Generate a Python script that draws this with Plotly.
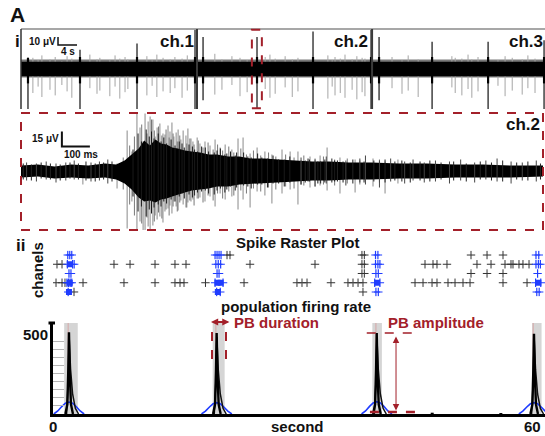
import plotly.graph_objects as go

W, H = 545, 436
def px(x): return x / W
def py(y): return 1 - y / H

RED = "#a3202a"
BLUE = "#1f3cff"
FONT = "Liberation Sans, Arial, sans-serif"

# ---------------- panel i : overview of three channels (s, µV) ----------------
overview_chan_labels = ["ch.1", "ch.2", "ch.3"]
overview_chan_edges_s = [0.0, 37.05, 73.9, 110.3]
overview_core_uv = [-9.0, 9.0]
overview_fuzz_uv = [-10.5, 12.0]
overview_burst_t = [1.47, 12.42, 24.42, 36.63, 38.32, 49.68, 61.47, 73.68, 75.37, 86.53, 98.32, 110.1]
overview_burst_top = [14, 24, 32, 49, 40, 40, 47, 49, 40, 34, 34, 36]
overview_burst_bot = [-50, -50, -50, -50, -39, -49, -50, -50, -39, -50, -50, -50]
overview_spk_t = [2.5, 3.6, 4.4, 6.1, 7.2, 8.6, 9.7, 10.7, 14.5, 16.0,
                  16.6, 18.7, 19.8, 20.8, 21.9, 22.5, 26.5, 27.6, 28.6, 29.9,
                  31.4, 32.4, 33.9, 35.0, 40.8, 42.3, 44.4, 46.1, 47.6, 51.4,
                  52.4, 53.5, 55.6, 57.1, 58.3, 64.6, 65.5, 66.1, 67.2, 68.2,
                  69.7, 70.7, 71.8, 72.4, 78.1, 80.2, 81.5, 83.6, 90.7, 91.4,
                  92.8, 94.1, 94.9, 96.2, 100.4, 101.9, 103.4, 105.5, 106.7, 108.2]
overview_spk_bot = [-30, -22, -35, -26, -33, -20, -28, -36, -24, -31,
                    -27, -34, -22, -37, -29, -25, -33, -21, -35, -28,
                    -30, -24, -36, -27, -32, -26, -20, -34, -29, -25,
                    -36, -31, -23, -35, -28, -37, -22, -33, -30, -36,
                    -26, -38, -29, -34, -24, -31, -27, -35, -23, -30,
                    -33, -25, -36, -28, -21, -34, -27, -32, -24, -30]
overview_spk_top = [14, 11, 17, 12, 15, 10, 16, 13, 18, 12,
                    14, 11, 17, 13, 15, 12, 16, 11, 18, 14,
                    12, 15, 13, 17, 19, 12, 16, 14, 11, 15,
                    18, 13, 16, 12, 14, 17, 11, 15, 13, 18,
                    12, 16, 14, 13, 15, 11, 17, 12, 16, 14,
                    13, 18, 12, 15, 11, 16, 14, 12, 17, 13]
overview_zoom_window_s = [48.6, 50.7]
overview_scalebar = [7.79, 30, 4, 10]   # x0 (s), y0 (µV), 4 s, 10 µV

# ---------------- zoomed ch.2 burst (ms, µV) ----------------
zoom_env_ms = [0, 60, 120, 180, 240, 300, 340, 370, 395, 420,
               440, 460, 480, 500, 520, 540, 560, 585, 610, 640,
               670, 700, 740, 780, 820, 870, 920, 980, 1040, 1100,
               1170, 1250, 1350, 1450, 1550, 1650, 1750, 1864]
zoom_env_top = [6, 7, 5, 7, 6, 8, 7, 11, 17, 23,
                31, 26, 32, 28, 27, 24, 23, 21, 20, 19,
                17, 17, 15, 15, 13, 13, 12, 11, 10, 10,
                9, 9, 8, 8, 7, 7, 6, 6]
zoom_env_bot = [-6, -5, -7, -6, -7, -6, -8, -12, -18, -26,
                -30, -29, -31, -28, -27, -25, -23, -21, -19, -18,
                -17, -15, -15, -13, -13, -12, -11, -10, -9, -9,
                -8, -8, -7, -7, -6, -6, -6, -5]
zoom_spk_ms = [221, 343, 379, 396, 414, 425, 436, 443, 454, 461,
               471, 479, 486, 496, 507, 514, 525, 532, 539, 546,
               554, 561, 571, 579, 589, 596, 607, 614, 629, 639,
               657, 675, 693, 711, 729, 753, 775, 793, 818, 843,
               871, 896, 932, 961, 989, 1032, 1068, 1093, 1139, 1193,
               1257, 1300, 1346]
zoom_spk_top = [4, 8, 41, 20, 58, 44, 30, 58, 50, 55,
                52, 35, 44, 48, 38, 37, 46, 40, 49, 35,
                39, 42, 32, 41, 36, 43, 33, 30, 34, 28,
                30, 26, 32, 24, 27, 22, 33, 34, 18, 24,
                20, 17, 22, 20, 20, 15, 16, 24, 14, 12,
                13, 10, 12]
zoom_spk_bot = [-13, -17, -57, -30, -59, -50, -59, -59, -55, -59,
                -54, -44, -48, -45, -51, -40, -37, -34, -42, -30,
                -35, -39, -29, -33, -36, -31, -30, -28, -27, -26,
                -30, -25, -35, -22, -28, -25, -38, -28, -36, -20,
                -24, -32, -22, -18, -33, -16, -14, -19, -22, -21,
                -15, -22, -12]
zoom_gray2_ms = [365, 388, 405, 431, 450, 466, 476, 491, 503, 518,
                 529, 543, 558, 567, 592, 603, 618, 633, 650, 668,
                 686, 702, 720, 742, 760, 785, 805, 830, 856, 884,
                 910, 945, 975, 1010, 1050, 1080, 1120, 1165, 1210, 1280]
zoom_gray2_top = [14, 26, 35, 47, 38, 52, 41, 45, 36, 42,
                  34, 38, 30, 36, 28, 33, 27, 31, 24, 29,
                  22, 27, 21, 25, 19, 23, 17, 21, 16, 19,
                  15, 17, 14, 16, 13, 15, 12, 13, 11, 12]
zoom_gray2_bot = [-18, -33, -44, -52, -46, -40, -50, -41, -47, -38,
                  -44, -35, -40, -31, -36, -29, -34, -27, -31, -24,
                  -29, -22, -27, -20, -24, -19, -22, -17, -20, -16,
                  -18, -15, -17, -14, -15, -13, -14, -12, -13, -11]
zoom_dark_ms = [400, 418, 430, 447, 458, 466, 475, 490, 500, 510, 520, 536, 550,
                565, 583, 600, 620, 645, 670, 700, 735, 770, 810, 860, 920,
                575, 612, 630, 658, 690, 712, 728, 748, 765, 795, 822, 845,
                880, 900, 940, 960, 1000, 1025, 1060, 1085, 1120, 1150]
zoom_dark_top = [22, 38, 30, 42, 35, 40, 33, 38, 30, 34, 28, 32, 26,
                 30, 24, 27, 22, 25, 20, 21, 18, 19, 15, 14, 12,
                 28, 25, 20, 24, 19, 23, 17, 20, 16, 19, 14, 18,
                 13, 16, 12, 15, 11, 13, 10, 12, 11, 10]
zoom_dark_bot = [-25, -40, -35, -45, -38, -42, -36, -33, -35, -30, -32, -28, -30,
                 -25, -27, -23, -24, -20, -22, -19, -18, -16, -15, -13, -12,
                 -22, -26, -21, -19, -23, -17, -21, -15, -19, -14, -17, -13,
                 -16, -12, -15, -11, -13, -10, -12, -11, -10, -11]
zoom_small_ms = [20, 55, 90, 125, 160, 190, 250, 280, 310,
                 1000, 1050, 1090, 1160, 1210, 1230, 1280, 1320, 1370, 1400,
                 1440, 1480, 1530, 1570, 1620, 1660, 1700, 1750, 1790, 1840]
zoom_small_top = [9, 8, 10, 8, 9, 11, 9, 10, 12,
                  14, 12, 15, 11, 13, 16, 11, 13, 10, 12,
                  9, 11, 10, 12, 9, 11, 13, 10, 9, 11]
zoom_small_bot = [-9, -10, -8, -11, -9, -8, -10, -9, -12,
                  -13, -15, -12, -14, -11, -13, -16, -10, -12, -9,
                  -11, -10, -12, -9, -11, -8, -10, -12, -9, -10]
zoom_fine_ms = [8, 37, 72, 105, 140, 175, 205, 232, 265, 295, 325,
                1015, 1030, 1070, 1110, 1130, 1185, 1225, 1260, 1300, 1335,
                1360, 1390, 1425, 1460, 1500, 1545, 1590, 1640, 1680, 1720,
                1770, 1810, 1855]
zoom_fine_top = [8, 7, 9, 8, 7, 9, 8, 10, 8, 9, 10,
                 11, 12, 10, 13, 11, 12, 10, 11, 12, 10,
                 11, 9, 10, 11, 9, 10, 8, 10, 9, 11,
                 9, 10, 8]
zoom_fine_bot = [-8, -9, -7, -8, -9, -7, -8, -9, -10, -8, -10,
                 -11, -10, -12, -11, -10, -12, -11, -10, -11, -9,
                 -10, -11, -9, -10, -8, -9, -10, -8, -9, -10,
                 -8, -9, -8]
zoom_scalebar = [146, 25, 100, 15]   # x0 (ms), y0 (µV), 100 ms, 15 µV

# ---------------- panel ii : spike raster (s) ----------------
raster_rows = [1, 2, 3, 4, 5]
raster_black = [
    [21.8, 22.17, 38.7, 39.0, 52.36, 54.37, 56.37],
    [0.5, 1.13, 7.64, 9.65, 12.78, 15.28, 16.66, 24.68, 32.82, 38.7, 39.0, 46.6, 47.6,
     48.1, 49.35, 53.11, 54.87, 56.62, 57.37, 57.62, 58.37, 58.87, 59.63],
    [38.7, 39.0, 52.36, 54.37, 56.37],
    [0.38, 1.13, 1.5, 3.76, 8.89, 12.78, 15.28, 15.91, 16.41, 19.1, 23.93, 30.56, 31.19,
     31.82, 34.82, 36.95, 37.58, 38.21, 38.83, 45.35, 46.35, 47.48, 48.1, 49.48, 50.36,
     51.36, 52.24, 56.37, 59.38],
    [2.63, 38.83],
]
raster_blue = [
    [1.85, 2.1, 2.35, 20.3, 20.55, 20.8, 21.05, 40.4, 40.7, 60.5, 60.85],
    [1.8, 2.45, 2.65, 20.4, 20.7, 21.0, 40.4, 40.7, 40.95, 60.5, 60.8, 61.05],
    [2.0, 2.25, 20.55, 20.8, 40.45, 40.75, 60.7],
    [1.75, 1.95, 2.15, 2.35, 20.3, 21.3, 40.3, 40.95, 60.45, 61.1],
    [1.9, 20.5, 20.95, 40.45, 40.75, 60.6, 60.9],
]
raster_block_row = [2, 4, 5, 4, 4, 5, 4, 4]
raster_block_t = [2.1, 2.1, 2.0, 20.6, 21.0, 20.65, 40.6, 60.8]

# ---------------- population firing rate ----------------
fr_burst_t = [2.0, 20.5, 40.55, 60.25]
fr_peak = [505, 500, 500, 495]
fr_blue_peak = [74, 70, 76, 70]
fr_band_lo = [1.4, 20.0, 40.0, 60.0]
fr_band_hi = [3.1, 21.5, 41.2, 61.2]
fr_spike_dt = [-0.45, -0.2, -0.08, 0, 0.1, 0.25, 0.5]
fr_spike_frac = [0, 0.12, 0.55, 1.0, 0.5, 0.12, 0]
fr_tail_dt = [-0.3, -0.1, 0.02, 0.2, 0.45, 0.8, 1.2]
fr_tail_frac = [0, 0.4, 0.95, 0.55, 0.25, 0.07, 0]
fr_blue_dt = [-1.9, -1.4, -0.9, -0.45, 0, 0.45, 0.9, 1.4, 1.9]
fr_blue_frac = [0, 0.25, 0.62, 0.9, 1.0, 0.9, 0.62, 0.25, 0]
fr_blip_t = [47.5, 56.1]
fr_blip_v = [8, 6]
fr_minor_ticks = [50, 100, 150, 200, 250, 300, 350, 400, 450]
pb_duration_s = [19.92, 21.67]
pb_amp_low = 22

fig = go.Figure()

def vseg(ts, tops, bots):
    xs, ys = [], []
    for t, a, b in zip(ts, tops, bots):
        xs += [t, t, None]
        ys += [b, a, None]
    return xs, ys

def line_trace(x, y, color, width, xa, ya, fill=None):
    return go.Scatter(x=x, y=y, mode="lines", line=dict(color=color, width=width),
                      fill=fill, fillcolor=color if fill else None,
                      xaxis=xa, yaxis=ya, hoverinfo="skip", showlegend=False)

# ---- overview traces
e0, e1 = overview_chan_edges_s[0], overview_chan_edges_s[-1]
lo, hi = overview_fuzz_uv
fig.add_trace(line_trace([e0, e1, e1, e0, e0], [lo, lo, hi, hi, lo], "#7a7a7a", 0, "x", "y", "toself"))
xs, ys = vseg(overview_spk_t, overview_spk_top, overview_spk_bot)
fig.add_trace(line_trace(xs, ys, "#a5a5a5", 1, "x", "y"))
lo, hi = overview_core_uv
fig.add_trace(line_trace([e0, e1, e1, e0, e0], [lo, lo, hi, hi, lo], "#000000", 0, "x", "y", "toself"))
xs, ys = vseg(overview_burst_t, overview_burst_top, overview_burst_bot)
fig.add_trace(line_trace(xs, ys, "#111111", 1.2, "x", "y"))
xs, ys = vseg(overview_burst_t, [min(15, v) for v in overview_burst_top], [-18] * len(overview_burst_t))
fig.add_trace(line_trace(xs, ys, "#000000", 2.2, "x", "y"))

# ---- zoom traces
xs, ys = vseg(zoom_spk_ms, zoom_spk_top, zoom_spk_bot)
fig.add_trace(line_trace(xs, ys, "#8a8a8a", 1, "x2", "y2"))
xs, ys = vseg(zoom_gray2_ms, zoom_gray2_top, zoom_gray2_bot)
fig.add_trace(line_trace(xs, ys, "#777777", 1, "x2", "y2"))
fig.add_trace(line_trace(zoom_env_ms + zoom_env_ms[::-1], zoom_env_top + zoom_env_bot[::-1],
                         "#000000", 0, "x2", "y2", "toself"))
xs, ys = vseg(zoom_dark_ms, zoom_dark_top, zoom_dark_bot)
fig.add_trace(line_trace(xs, ys, "#1a1a1a", 1, "x2", "y2"))
xs, ys = vseg(zoom_small_ms, zoom_small_top, zoom_small_bot)
fig.add_trace(line_trace(xs, ys, "#444444", 1, "x2", "y2"))
xs, ys = vseg(zoom_fine_ms, zoom_fine_top, zoom_fine_bot)
fig.add_trace(line_trace(xs, ys, "#222222", 1, "x2", "y2"))

# ---- raster
for r, ts in zip(raster_rows, raster_black):
    fig.add_trace(go.Scatter(x=ts, y=[r] * len(ts), mode="markers", xaxis="x3", yaxis="y3",
                             marker=dict(symbol="cross-thin", size=6, line=dict(color="#333333", width=1)),
                             hoverinfo="skip", showlegend=False))
for r, ts in zip(raster_rows, raster_blue):
    fig.add_trace(go.Scatter(x=ts, y=[r] * len(ts), mode="markers", xaxis="x3", yaxis="y3",
                             marker=dict(symbol="cross-thin", size=6, line=dict(color=BLUE, width=1.2)),
                             hoverinfo="skip", showlegend=False))
fig.add_trace(go.Scatter(x=raster_block_t, y=raster_block_row, mode="markers", xaxis="x3", yaxis="y3",
                         marker=dict(symbol="square", size=6, color=BLUE, line=dict(width=0)),
                         hoverinfo="skip", showlegend=False))

# ---- firing rate
bx, by, sx, sy, tx, ty = [], [], [], [], [], []
for t, pk, bp in zip(fr_burst_t, fr_peak, fr_blue_peak):
    bx += [t + d for d in fr_blue_dt] + [None]
    by += [bp * f for f in fr_blue_frac] + [None]
    sx += [t + d for d in fr_spike_dt] + [None]
    sy += [pk * f for f in fr_spike_frac] + [None]
    tx += [t + d for d in fr_tail_dt] + [None]
    ty += [pk * f for f in fr_tail_frac] + [None]
fig.add_trace(line_trace(bx, by, BLUE, 1.6, "x4", "y4"))
fig.add_trace(line_trace(tx, ty, "#111111", 1.5, "x4", "y4"))
fig.add_trace(line_trace(sx, sy, "#000000", 2.4, "x4", "y4"))
xs, ys = vseg(fr_blip_t, fr_blip_v, [0, 0])
fig.add_trace(line_trace(xs, ys, "#000000", 3, "x4", "y4"))

shapes = []
# overview frame
shapes.append(dict(type="line", xref="x domain", yref="y domain", x0=0, x1=1, y0=1, y1=1,
                   line=dict(color="#8a8a8a", width=1.5)))
shapes.append(dict(type="line", xref="x domain", yref="y domain", x0=0, x1=0, y0=0, y1=1,
                   line=dict(color="#333333", width=1.5)))
for e in overview_chan_edges_s[1:-1]:
    shapes.append(dict(type="line", xref="x", yref="y domain", x0=e, x1=e, y0=0, y1=1,
                       line=dict(color="#3a3a3a", width=2)))
shapes.append(dict(type="rect", xref="x", yref="y domain", x0=overview_zoom_window_s[0],
                   x1=overview_zoom_window_s[1], y0=0.01, y1=0.99,
                   line=dict(color=RED, width=2, dash="dash")))
sx0, sy0, sdx, sdy = overview_scalebar
shapes.append(dict(type="path", xref="x", yref="y",
                   path=f"M {sx0} {sy0 + sdy} L {sx0} {sy0} L {sx0 + sdx} {sy0}",
                   line=dict(color="#111111", width=1.5)))
zx0, zy0, zdx, zdy = zoom_scalebar
shapes.append(dict(type="path", xref="x2", yref="y2",
                   path=f"M {zx0} {zy0 + zdy} L {zx0} {zy0} L {zx0 + zdx} {zy0}",
                   line=dict(color="#111111", width=2)))
shapes.append(dict(type="rect", xref="x2 domain", yref="y2 domain", x0=0, x1=1, y0=0, y1=1,
                   line=dict(color=RED, width=2, dash="dash")))
# firing-rate bands
for a, b, t in zip(fr_band_lo, fr_band_hi, fr_burst_t):
    shapes.append(dict(type="rect", xref="x4", yref="y4 domain", x0=a, x1=b, y0=0, y1=1,
                       fillcolor="#d5d5d5", line=dict(width=0), layer="below"))
    shapes.append(dict(type="line", xref="x4", yref="y4 domain", x0=t - 0.1, x1=t - 0.1, y0=0.3, y1=1,
                       line=dict(color="rgba(215,110,110,0.45)", width=1), layer="below"))
# PB duration marks
for d in pb_duration_s:
    shapes.append(dict(type="line", xref="x4", yref="y4", x0=d, x1=d, y0=340, y1=508,
                       line=dict(color=RED, width=2, dash="dash")))
# PB amplitude marks
shapes.append(dict(type="line", xref="x4", yref="y4", x0=39.3, x1=45.35, y0=fr_peak[2], y1=fr_peak[2],
                   line=dict(color=RED, width=1.5, dash="dash")))
shapes.append(dict(type="line", xref="x4", yref="y4", x0=39.7, x1=45.35, y0=pb_amp_low - 10, y1=pb_amp_low - 10,
                   line=dict(color=RED, width=2.5, dash="dash")))
# y-axis top cap
shapes.append(dict(type="line", xref="paper", yref="paper", x0=px(48.5), x1=px(55), y0=py(323), y1=py(323),
                   line=dict(color="#000000", width=3)))

def txt(s, x, y, size, xanchor="center", color="#111111", angle=0, bold=True):
    return dict(text=f"<b>{s}</b>" if bold else s, x=px(x), y=py(y), xref="paper", yref="paper",
                xanchor=xanchor, yanchor="middle", showarrow=False, textangle=angle,
                font=dict(family=FONT, size=size, color=color))

ann = [
    txt("A", 8, 15, 21, "left"),
    txt("i", 17, 41, 17),
    txt(overview_chan_labels[0], 196, 41, 17, "right"),
    txt(overview_chan_labels[1], 370, 41, 17, "right"),
    txt(overview_chan_labels[2], 545, 41, 17, "right"),
    txt("10 μV", 58, 42, 10, "right"),
    txt("4 s", 68, 51, 10),
    txt("ch.2", 542, 124, 17, "right"),
    txt("15 μV", 61, 139, 10, "right"),
    txt("100 ms", 62, 154, 10, "left"),
    txt("ii", 20, 245, 17),
    txt("chanels", 37, 270, 15, angle=-90),
    txt("Spike Raster Plot", 297, 242, 15),
    txt("population firing rate", 296, 306, 15),
    txt("PB duration", 232, 322, 15, "left", RED),
    txt("PB amplitude", 386, 322, 15, "left", RED),
    txt("500", 50, 334, 15, "right"),
    txt("0", 53, 426, 15),
    txt("60", 532, 426, 15),
    txt("second", 297, 426, 15),
]
# arrows
ann.append(dict(x=22.1, y=py(322), xref="x4", yref="paper", ax=19.6, ay=0, axref="x4", ayref="pixel",
                text="", showarrow=True, arrowside="end+start", arrowhead=2, startarrowhead=2,
                arrowsize=0.8, startarrowsize=0.8, arrowwidth=1.8, arrowcolor=RED))
ann.append(dict(x=42.97, y=pb_amp_low, xref="x4", yref="y4", ax=42.97, ay=fr_peak[2] - 12,
                axref="x4", ayref="y4", text="", showarrow=True, arrowside="end+start",
                arrowhead=2, startarrowhead=2, arrowsize=1.3, startarrowsize=1.3, arrowwidth=1,
                arrowcolor=RED))

hidden = dict(visible=False, fixedrange=True)
fig.update_layout(
    width=W, height=H, margin=dict(l=0, r=0, t=0, b=0),
    paper_bgcolor="white", plot_bgcolor="white", showlegend=False,
    xaxis=dict(domain=[px(21), 1], range=[0, 110.3], **hidden),
    yaxis=dict(domain=[py(109), py(29)], range=[-50, 50], **hidden),
    xaxis2=dict(domain=[px(21), px(543)], range=[0, 1864], anchor="y2", **hidden),
    yaxis2=dict(domain=[py(230), py(113)], range=[-58.5, 58.5], anchor="x2", **hidden),
    xaxis3=dict(domain=[px(53), 1], range=[0, 61.63], anchor="y3", **hidden),
    yaxis3=dict(domain=[py(296.6), py(250.4)], range=[5.5, 0.5], anchor="x3", **hidden),
    xaxis4=dict(domain=[px(53), 1], range=[0, 61.63], anchor="y4", showline=True, linewidth=3,
                linecolor="black", showgrid=False, zeroline=False, ticks="", showticklabels=False),
    yaxis4=dict(domain=[py(414), py(323)], range=[0, 562], anchor="x4", showline=True, linewidth=3,
                linecolor="black", showgrid=False, zeroline=False, ticks="inside", ticklen=11,
                tickcolor="#b5b5b5", tickwidth=1, tickvals=fr_minor_ticks, showticklabels=False),
    shapes=shapes, annotations=ann,
)

fig.write_html("out.html", config={"displayModeBar": False},
               post_script="document.body.style.margin='0';")
